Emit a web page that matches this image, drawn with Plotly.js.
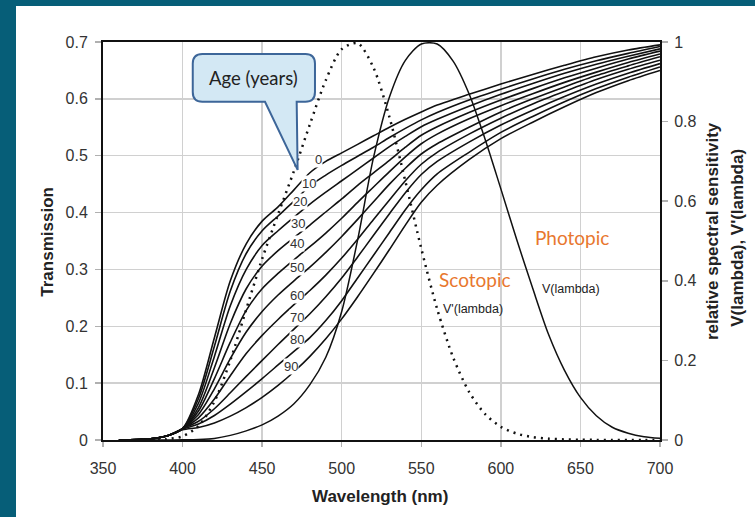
<!DOCTYPE html>
<html>
<head>
<meta charset="utf-8">
<script src="https://cdn.plot.ly/plotly-3.0.1.min.js"></script>
<style>
  html, body { margin: 0; padding: 0; background: #065e78; width: 755px; height: 517px; overflow: hidden; }
  #chart { position: absolute; left: 16px; top: 6px; width: 739px; height: 511px; background: #ffffff; }
</style>
</head>
<body>
<div id="chart"></div>
<script>
// ---- data ----
const wavelengths = [360,380,390,400,410,420,430,440,450,460,470,480,490,500,510,520,530,540,550,560,580,600,620,640,660,680,700];
const ages = ["0","10","20","30","40","50","60","70","80","90"];
const trans0  = [0,.002,.007,.02,.08,.18,.28,.345,.385,.41,.44,.47,.49,.505,.52,.535,.55,.564,.577,.589,.608,.626,.643,.659,.674,.686,.695];
const trans10 = [0,.002,.007,.02,.073,.165,.262,.328,.368,.394,.42,.447,.466,.483,.499,.515,.532,.548,.563,.576,.598,.617,.635,.652,.667,.68,.692];
const trans20 = [0,.002,.007,.02,.065,.147,.236,.3,.342,.368,.392,.415,.436,.456,.476,.496,.516,.534,.551,.564,.587,.608,.627,.645,.661,.675,.688];
const trans30 = [0,.002,.007,.02,.057,.127,.205,.266,.306,.333,.356,.378,.401,.424,.448,.47,.492,.515,.536,.551,.576,.598,.618,.637,.654,.67,.684];
const trans40 = [0,.002,.007,.02,.051,.108,.172,.228,.266,.293,.317,.34,.364,.39,.418,.445,.472,.498,.521,.538,.565,.588,.609,.629,.647,.664,.679];
const trans50 = [0,.002,.007,.02,.045,.09,.143,.19,.226,.255,.28,.304,.33,.358,.388,.419,.45,.478,.503,.521,.55,.577,.6,.621,.641,.658,.674];
const trans60 = [0,.002,.007,.02,.039,.072,.113,.152,.184,.212,.238,.263,.29,.32,.353,.388,.422,.456,.485,.506,.538,.566,.591,.613,.634,.652,.668];
const trans70 = [0,.002,.007,.02,.033,.055,.083,.112,.14,.168,.195,.222,.252,.285,.322,.36,.398,.435,.467,.49,.524,.554,.58,.604,.626,.645,.662];
const trans80 = [0,.002,.007,.019,.028,.043,.063,.085,.108,.132,.156,.18,.21,.245,.285,.325,.365,.405,.44,.468,.506,.541,.569,.595,.618,.638,.656];
const trans90 = [0,.002,.007,.018,.022,.03,.042,.057,.075,.096,.12,.147,.178,.213,.252,.293,.335,.378,.418,.448,.493,.53,.559,.586,.611,.632,.65];

const specWl = [380,390,400,410,420,430,440,450,460,470,480,490,500,510,520,530,540,550,560,570,580,590,600,610,620,630,640,650,660,670,680,690,700];
const photopic = [0.00004,0.00012,0.0004,0.0012,0.004,0.0116,0.023,0.038,0.06,0.091,0.139,0.208,0.323,0.503,0.71,0.862,0.954,0.995,0.995,0.952,0.87,0.757,0.631,0.503,0.381,0.265,0.175,0.107,0.061,0.032,0.017,0.0082,0.0041];
const scotopic = [0.000589,0.002209,0.00929,0.03484,0.0966,0.1998,0.3281,0.455,0.567,0.676,0.793,0.904,0.982,0.997,0.935,0.811,0.65,0.481,0.3288,0.2076,0.1212,0.0655,0.03315,0.01593,0.00737,0.003335,0.001497,0.000677,0.000313,0.000148,0.0000715,0.0000353,0.0000178];

const xTicks = [350,400,450,500,550,600,650,700];
const yTicks = [0,0.1,0.2,0.3,0.4,0.5,0.6,0.7];
const y2Ticks = [0,0.2,0.4,0.6,0.8,1];

// ---- traces ----
const series = [trans0,trans10,trans20,trans30,trans40,trans50,trans60,trans70,trans80,trans90];
const traces = series.map((s, i) => ({
  x: wavelengths, y: s, type: 'scatter', mode: 'lines', name: ages[i],
  line: { color: '#111111', width: 1.6, shape: 'spline', smoothing: 0.8 },
  hoverinfo: 'skip', showlegend: false
}));
traces.push({
  x: specWl, y: scotopic, yaxis: 'y2', type: 'scatter', mode: 'lines', name: "V'(lambda)",
  line: { color: '#111111', width: 2.5, dash: '2px,5px', shape: 'spline', smoothing: 0.8 }, showlegend: false
});
traces.push({
  x: specWl, y: photopic, yaxis: 'y2', type: 'scatter', mode: 'lines', name: 'V(lambda)',
  line: { color: '#111111', width: 1.5, shape: 'spline', smoothing: 0.8 }, showlegend: false
});

// age label positions (wavelength, transmission)
const labelPos = [[485.7,0.494],[479.4,0.452],[473.5,0.419],[472.3,0.381],[471.7,0.346],[471.7,0.304],[471.7,0.255],[471.7,0.216],[471.7,0.176],[468,0.13]];
const sans = 'Liberation Sans, Arial, sans-serif';
const annotations = ages.map((a, i) => ({
  x: labelPos[i][0], y: labelPos[i][1], xref: 'x', yref: 'y', text: a, showarrow: false,
  font: { family: sans, size: 13, color: '#333333' },
  bgcolor: '#ffffff', borderpad: 0
}));
annotations.push(
  { x: 444.8, y: 0.637, xref: 'x', yref: 'y', text: 'Age (years)', showarrow: false,
    font: { family: 'Lato, Open Sans, sans-serif', size: 18.5, color: '#222222' } },
  { x: 644.7, y: 0.357, xref: 'x', yref: 'y', text: 'Photopic', showarrow: false,
    font: { family: 'Lato, Open Sans, sans-serif', size: 19, color: '#e8772e' } },
  { x: 583.8, y: 0.283, xref: 'x', yref: 'y', text: 'Scotopic', showarrow: false,
    font: { family: 'Lato, Open Sans, sans-serif', size: 19, color: '#e8772e' } },
  { x: 644.1, y: 0.266, xref: 'x', yref: 'y', text: 'V(lambda)', showarrow: false,
    font: { family: sans, size: 12.5, color: '#222222' } },
  { x: 582.5, y: 0.230, xref: 'x', yref: 'y', text: "V'(lambda)", showarrow: false,
    font: { family: sans, size: 12.5, color: '#222222' } },
  { x: -0.1, y: 0.499, xref: 'paper', yref: 'paper', xanchor: 'center', yanchor: 'middle',
    text: '<b>Transmission</b>', showarrow: false, textangle: -90,
    font: { family: sans, size: 17, color: '#222222' } },
  { x: 0.497, y: -0.143, xref: 'paper', yref: 'paper', xanchor: 'center', yanchor: 'middle',
    text: '<b>Wavelength (nm)</b>', showarrow: false,
    font: { family: sans, size: 17, color: '#222222' } },
  { x: 1.0934, y: 0.525, xref: 'paper', yref: 'paper', xanchor: 'center', yanchor: 'middle',
    text: '<b>relative spectral sensitivity</b>', showarrow: false, textangle: -90,
    font: { family: sans, size: 17, color: '#222222' } },
  { x: 1.140, y: 0.508, xref: 'paper', yref: 'paper', xanchor: 'center', yanchor: 'middle',
    text: '<b>V(lambda), V\'(lambda)</b>', showarrow: false, textangle: -90,
    font: { family: sans, size: 17, color: '#222222' } }
);

const callout = 'M 412.4,0.679 L 477.2,0.679 Q 483.2,0.679 483.2,0.662 L 483.2,0.612 Q 483.2,0.595 477.2,0.595 ' +
  'L 471.7,0.595 L 472.3,0.475 L 451.8,0.595 L 412.4,0.595 Q 406.4,0.595 406.4,0.612 L 406.4,0.662 Q 406.4,0.679 412.4,0.679 Z';

const tickFont = { family: sans, size: 16, color: '#333333' };
const layout = {
  width: 739, height: 511,
  margin: { l: 87, r: 95, t: 36, b: 77 },
  paper_bgcolor: '#ffffff', plot_bgcolor: '#ffffff',
  showlegend: false,
  xaxis: {
    range: [350, 700], tickvals: xTicks, ticktext: xTicks.map(String),
    showgrid: true, gridcolor: '#d0d0d0', gridwidth: 1.5,
    showline: true, linecolor: '#111111', linewidth: 2, mirror: true,
    ticks: 'outside', ticklen: 5, tickcolor: '#b0b0b0', tickwidth: 1.5,
    ticklabelstandoff: 8,
    tickfont: tickFont, zeroline: false
  },
  yaxis: {
    range: [0, 0.7], tickvals: yTicks, ticktext: yTicks.map(v => String(v)),
    showgrid: true, gridcolor: '#d0d0d0', gridwidth: 1.5,
    showline: true, linecolor: '#111111', linewidth: 2,
    ticks: 'outside', ticklen: 6, tickcolor: '#b0b0b0', tickwidth: 1.5,
    ticklabelstandoff: 4,
    tickfont: tickFont, zeroline: false
  },
  yaxis2: {
    range: [0, 1], overlaying: 'y', side: 'right', tickvals: y2Ticks, ticktext: y2Ticks.map(v => String(v)),
    showgrid: false, showline: true, linecolor: '#111111', linewidth: 2,
    ticks: 'outside', ticklen: 6, tickcolor: '#b0b0b0', tickwidth: 1.5,
    ticklabelstandoff: 3,
    tickfont: tickFont, zeroline: false
  },
  shapes: [{
    type: 'path', xref: 'x', yref: 'y', path: callout, layer: 'above',
    fillcolor: '#d3e8f4', line: { color: '#3d6699', width: 2 }
  }],
  annotations: annotations
};

Plotly.newPlot('chart', traces, layout, { staticPlot: true, displayModeBar: false });
</script>
</body>
</html>
